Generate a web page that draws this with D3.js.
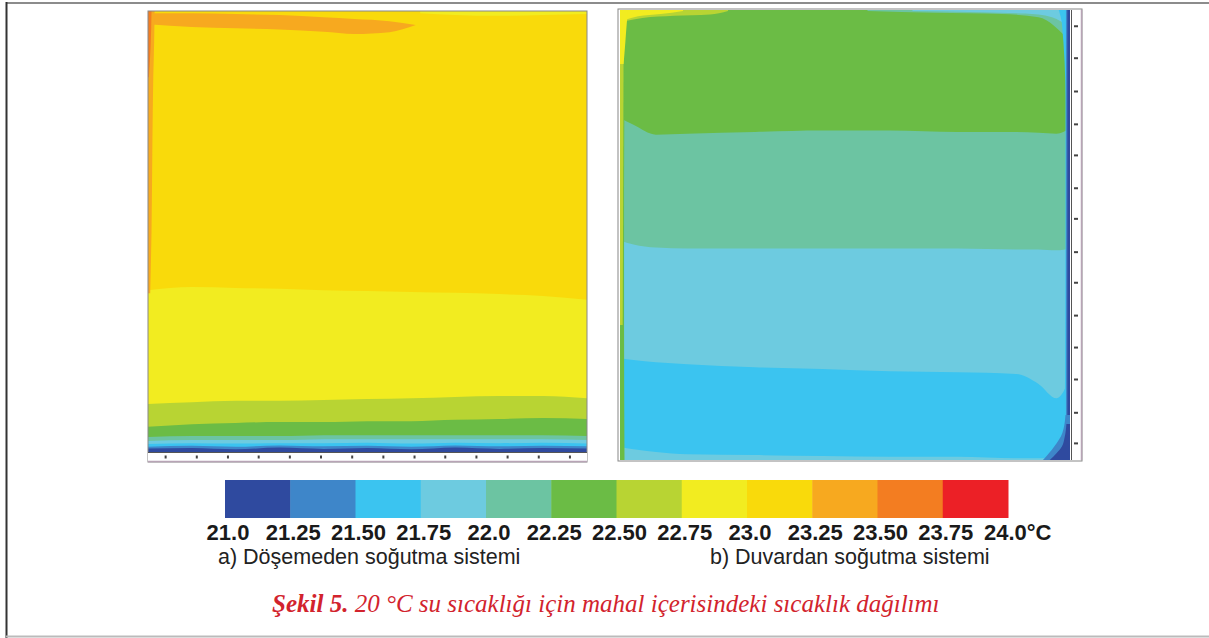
<!DOCTYPE html>
<html><head><meta charset="utf-8">
<script src="https://cdn.jsdelivr.net/npm/d3@7"></script>
<style>body{margin:0;background:#fff}svg{display:block}</style>
</head><body>
<svg id="c" width="1209" height="638"></svg>
<script>
// ---------- legend data ----------
const levels = [21.0,21.25,21.5,21.75,22.0,22.25,22.5,22.75,23.0,23.25,23.5,23.75,24.0];
const levelLabels = ["21.0","21.25","21.50","21.75","22.0","22.25","22.50","22.75","23.0","23.25","23.50","23.75","24.0°C"];
const levelColors = ["#2f4a9f","#3e86c9","#3bc4f0","#6dcbe0","#6cc4a2","#6bbc45","#b8d433","#f2ec20","#f9da0b","#f7a91f","#f37d21","#ec2026"];
const subtitles = ["a) Döşemeden soğutma sistemi","b) Duvardan soğutma sistemi"];
const captionBold = "Şekil 5.";
const captionRest = " 20 °C su sıcaklığı için mahal içerisindeki sıcaklık dağılımı";

// ---------- panel a (floor cooling): positions in % of room width / height ----------
const aX = [0,10,20,30,40,50,60,70,80,90,100];
const aBase = 23.1;
const aYellowTop = [36.7,37.4,37.2,37.0,36.7,36.5,36.3,36.1,35.8,35.4,34.5];
const aYGreenTop = [10.9,11.3,11.6,11.6,11.8,12.0,12.2,12.5,12.7,12.7,12.2];
const aGreenTop  = [5.7,6.3,6.6,6.8,6.8,7.0,7.0,7.3,7.5,7.7,7.5];
const aTealTop   = [3.4,3.6,3.6,3.6,3.8,3.8,3.8,3.8,3.8,3.8,3.6];
const aLBlueTop  = [2.5,2.7,2.7,2.7,2.9,2.9,2.9,2.9,2.9,2.9,2.7];
const aCyanTop   = [1.8,2.0,1.9,2.0,2.0,2.1,1.9,2.1,2.0,2.1,1.9];
const aMBlueTop  = [1.2,1.4,1.2,1.5,1.3,1.4,1.2,1.5,1.3,1.4,1.3];
const aNavyTop   = [0.8,0.9,0.6,1.0,0.7,0.9,0.6,1.0,0.7,0.9,0.8];
const aOrangeX  = [0,10,20,30,40,47,55,61];
const aOrangeHi = [99.5,99.5,99.3,99.1,98.6,98.2,97.7,96.8];
const aOrangeLo = [97.0,96.4,96.1,95.8,95.3,94.8,95.2,96.8];
const aTopYellowX  = [62,70,80,90,100];
const aTopYellowLo = [99.5,99.1,98.9,99.1,99.3];
const aLeftY      = [36,50,70,85,93,100];
const aLeftOrange = [0.5,0.8,1.0,1.2,1.4,1.5];
const aLeftRedY   = [85,92,100];
const aLeftRed1   = [0.2,0.6,0.8];
const aRulerTicks = [3.9,11.0,18.1,25.1,32.2,39.3,46.4,53.5,60.6,67.6,74.7,81.8,88.9,96.0];

// ---------- panel b (wall cooling) ----------
const bX = [0,3,8,15,30,45,60,75,88,93,97,100];
const bBase = 22.4;
const bTealTop   = [76.0,74.5,72.3,72.5,72.9,73.2,73.2,72.9,72.9,72.7,72.5,73.8];
const bLBlueTop  = [48.8,47.9,47.2,47.0,47.0,47.0,47.0,47.0,46.8,46.8,46.6,47.0];
const bCyanTop   = [22.6,22.2,21.7,21.3,20.6,20.2,19.7,19.5,19.1,16.9,13.7,18.2];
const bBottomTop = [2.9,2.4,1.8,1.3,1.1,0.9,0.7,0.7,0.4,0.4,0.4,0.4];
const bTopTealX  = [55,70,85,93,100];
const bTopTealLo = [99.8,99.4,99.1,98.4,93.0];
const bTopLBlueX  = [65,80,90,96,100];
const bTopLBlueLo = [99.8,99.5,99.2,98.4,96.0];
const bStreakX  = [1,5,12,20,24];
const bStreakLo = [97.5,98.2,98.7,99.0,99.8];
const bStreak2X  = [1,4,9,14];
const bStreak2Lo = [97.8,98.6,99.1,99.8];
const bLeftY    = [0,30,60,93];
const bLeftW    = [1.0,0.9,0.9,1.1];
const bLeftYGY  = [30,60,93];
const bLeftYGW  = [0.6,0.7,0.8];
const bCornerY  = [88,93,97,100];
const bCornerW  = [0.8,1.2,1.5,1.8];
const bRightY    = [0,20,50,80,97,100];
const bRightCyan = [98.8,98.9,99.0,99.0,98.2,97.5];
const bRightNavy = [99.4,99.4,99.4,99.4,99.4,99.4];
const bRightMid  = [99.1,99.1,99.1,99.1,99.1,99.1];
const bCornerMidY = [0,3,6,10];
const bCornerMidX = [94.0,96.5,98.3,99.0];
const bCornerNavyY = [0,1.5,3,5,8];
const bCornerNavyX = [95.5,97.0,98.2,98.8,99.2];
const bRulerTicks = [96.5,89.4,82.0,74.7,67.8,60.5,53.7,46.3,39.5,32.2,25.1,18.0,10.6,3.8];

// ---------- drawing ----------
const svg = d3.select("#c");
const color = d3.scaleThreshold().domain(levels.slice(1,-1)).range(levelColors);

// outer figure frame
svg.append("line").attr("x1",6).attr("x2",1209).attr("y1",3).attr("y2",3).attr("stroke","#666").attr("stroke-width",1.5);
svg.append("line").attr("x1",6.5).attr("x2",6.5).attr("y1",2).attr("y2",638).attr("stroke","#333").attr("stroke-width",2);
svg.append("line").attr("x1",6).attr("x2",1209).attr("y1",636.5).attr("y2",636.5).attr("stroke","#bbb").attr("stroke-width",2);

function drawPanel(p){
  const xs = d3.scaleLinear().domain([0,100]).range(p.xr);
  const ys = d3.scaleLinear().domain([0,100]).range(p.yr);
  const g = svg.append("g");
  const clipId = "clip"+p.id;
  svg.append("clipPath").attr("id",clipId).append("rect")
    .attr("x",p.xr[0]).attr("y",p.yr[1]).attr("width",p.xr[1]-p.xr[0]).attr("height",p.yr[0]-p.yr[1]);
  g.attr("clip-path",`url(#${clipId})`);
  g.append("rect").attr("x",p.xr[0]).attr("y",p.yr[1]).attr("width",p.xr[1]-p.xr[0]).attr("height",p.yr[0]-p.yr[1]).attr("fill",color(p.base));
  const hArea = d3.area().curve(d3.curveMonotoneX).x(d=>xs(d[0])).y0(d=>ys(d[2])).y1(d=>ys(d[1]));
  const vArea = d3.area().curve(d3.curveMonotoneY).y(d=>ys(d[0])).x0(d=>xs(d[1])).x1(d=>xs(d[2]));
  p.layers.forEach(L=>{
    let pts;
    if(L.x){
      pts = L.x.map((x,i)=>[x, L.top?L.top[i]:100, L.bot?L.bot[i]:0]);
      g.append("path").attr("d",hArea(pts)).attr("fill",color(L.t));
    } else {
      pts = L.y.map((y,i)=>[y, L.left?L.left[i]:0, L.right?L.right[i]:100]);
      g.append("path").attr("d",vArea(pts)).attr("fill",color(L.t));
    }
  });
  svg.append("rect").attr("x",p.frame[0]).attr("y",p.frame[1]).attr("width",p.frame[2]-p.frame[0]).attr("height",p.frame[3]-p.frame[1])
    .attr("fill","none").attr("stroke","#888").attr("stroke-width",1);
  const r = svg.append("g");
  if(p.ruler==="bottom"){
    r.append("rect").attr("x",p.xr[0]).attr("y",p.yr[0]).attr("width",p.xr[1]-p.xr[0]).attr("height",p.frame[3]-p.yr[0]).attr("fill","#fff");
    r.append("line").attr("x1",p.xr[0]).attr("x2",p.xr[1]).attr("y1",p.yr[0]+0.5).attr("y2",p.yr[0]+0.5).attr("stroke","#555");
    r.append("line").attr("x1",p.xr[0]).attr("x2",p.xr[1]).attr("y1",p.frame[3]-0.5).attr("y2",p.frame[3]-0.5).attr("stroke","#b8a4b6").attr("stroke-width",1.5);
    const ax = r.append("g").attr("transform",`translate(0,${p.yr[0]+3.5})`)
      .call(d3.axisBottom(xs).tickValues(p.ticks).tickSize(3).tickFormat(""));
    ax.select(".domain").remove();
    ax.selectAll(".tick line").attr("stroke","#444").attr("stroke-width",2);
  } else {
    r.append("rect").attr("x",p.xr[1]).attr("y",p.yr[1]).attr("width",p.frame[2]-p.xr[1]).attr("height",p.yr[0]-p.yr[1]).attr("fill","#fff");
    r.append("line").attr("x1",p.xr[1]+1.5).attr("x2",p.xr[1]+1.5).attr("y1",p.yr[1]).attr("y2",p.yr[0]).attr("stroke","#555");
    r.append("line").attr("x1",p.frame[2]-0.5).attr("x2",p.frame[2]-0.5).attr("y1",p.yr[1]).attr("y2",p.yr[0]).attr("stroke","#b8a4b6").attr("stroke-width",1.5);
    const ax = r.append("g").attr("transform",`translate(${p.xr[1]+4},0)`)
      .call(d3.axisRight(ys).tickValues(p.ticks).tickSize(4).tickFormat(""));
    ax.select(".domain").remove();
    ax.selectAll(".tick line").attr("stroke","#444").attr("stroke-width",2);
  }
}

drawPanel({
  id:"a", xr:[148,587], yr:[452,11], frame:[148,11,587,462], base:aBase, ruler:"bottom", ticks:aRulerTicks,
  layers:[
    {t:22.85, x:aX, top:aYellowTop},
    {t:22.6,  x:aX, top:aYGreenTop},
    {t:22.4,  x:aX, top:aGreenTop},
    {t:22.1,  x:aX, top:aTealTop},
    {t:21.9,  x:aX, top:aLBlueTop},
    {t:21.6,  x:aX, top:aCyanTop},
    {t:21.4,  x:aX, top:aMBlueTop},
    {t:21.1,  x:aX, top:aNavyTop},
    {t:23.4,  x:aOrangeX, top:aOrangeHi, bot:aOrangeLo},
    {t:22.85, x:aTopYellowX, bot:aTopYellowLo},
    {t:23.4,  y:aLeftY, right:aLeftOrange},
    {t:23.6,  y:aLeftRedY, right:aLeftRed1}
  ]
});

drawPanel({
  id:"b", xr:[620,1070], yr:[460,10], frame:[618,9,1082,461], base:bBase, ruler:"right", ticks:bRulerTicks,
  layers:[
    {t:22.1, x:bX, top:bTealTop},
    {t:21.9, x:bX, top:bLBlueTop},
    {t:21.6, x:bX, top:bCyanTop},
    {t:21.9, x:bX, top:bBottomTop},
    {t:22.1, x:bTopTealX, bot:bTopTealLo},
    {t:21.9, x:bTopLBlueX, bot:bTopLBlueLo},
    {t:22.6, x:bStreakX, bot:bStreakLo},
    {t:22.85,x:bStreak2X, bot:bStreak2Lo},
    {t:22.4, y:bLeftY, right:bLeftW},
    {t:22.6, y:bLeftYGY, right:bLeftYGW},
    {t:22.85,y:bCornerY, right:bCornerW},
    {t:21.6, y:bRightY, left:bRightCyan},
    {t:21.4, y:bRightY, left:bRightMid},
    {t:21.1, y:bRightY, left:bRightNavy},
    {t:21.4, y:bCornerMidY, left:bCornerMidX},
    {t:21.1, y:bCornerNavyY, left:bCornerNavyX}
  ]
});

// ---------- colour legend ----------
const lx = d3.scaleLinear().domain([levels[0], levels[levels.length-1]]).range([225,1008]);
const bins = d3.pairs(levels);
svg.append("g").selectAll("rect").data(bins).join("rect")
  .attr("x",d=>lx(d[0])).attr("y",480).attr("width",d=>lx(d[1])-lx(d[0])+0.5).attr("height",38)
  .attr("fill",(d,i)=>levelColors[i]);
const lab = svg.append("g").attr("font-family","'Liberation Sans',Arial,sans-serif").attr("font-weight","bold").attr("font-size",22).attr("fill","#1a1a1a");
lab.selectAll("text").data(levels).join("text")
  .attr("x",(d,i)=> i===levels.length-1 ? lx(d)-24 : lx(d)+3)
  .attr("y",540)
  .attr("text-anchor",(d,i)=> i===levels.length-1 ? "start":"middle")
  .text((d,i)=>levelLabels[i]);

svg.append("g").attr("font-family","'Liberation Sans',Arial,sans-serif").attr("font-size",21.5).attr("fill","#222")
  .selectAll("text").data(subtitles).join("text")
  .attr("x",(d,i)=>[218,710][i]).attr("y",564).text(d=>d);

const cap = svg.append("text").attr("x",272).attr("y",612).attr("font-family","'Liberation Serif','Times New Roman',serif")
  .attr("font-style","italic").attr("font-size",25).attr("fill","#d2232d");
cap.append("tspan").attr("font-weight","bold").text(captionBold);
cap.append("tspan").text(captionRest);
</script>
</body></html>
